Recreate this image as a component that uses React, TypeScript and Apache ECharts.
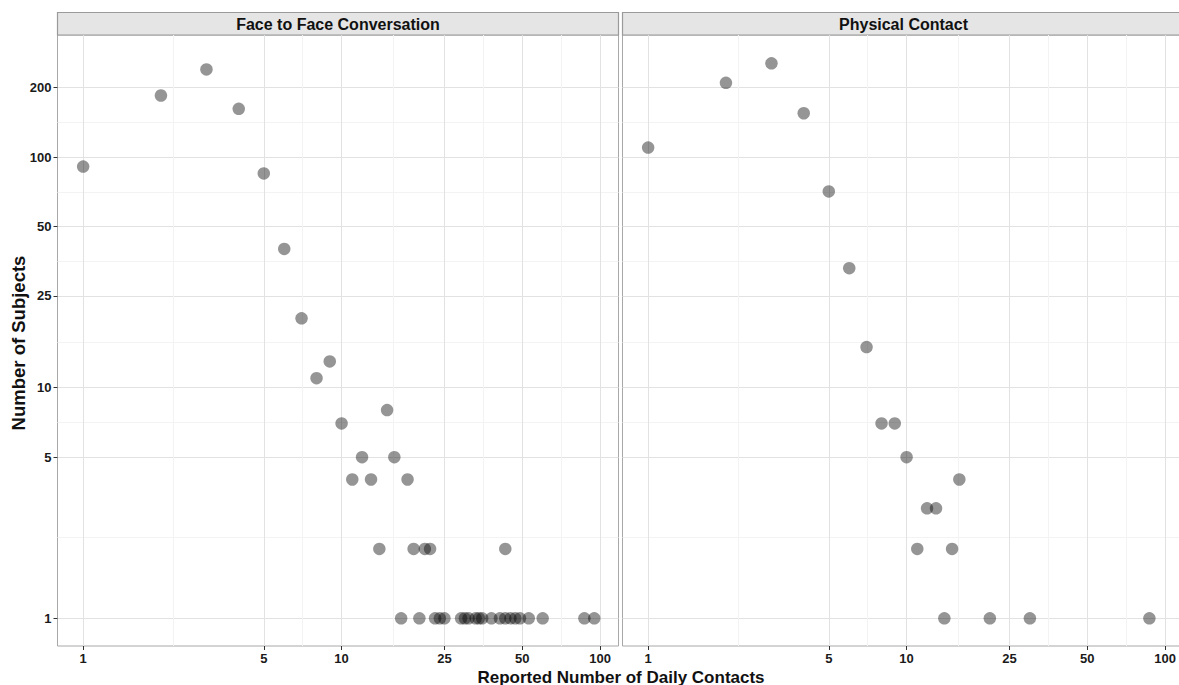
import React, { useEffect, useRef } from "react";
import * as echarts from "echarts";

const panelTitles = ["Face to Face Conversation", "Physical Contact"];
const xTitle = "Reported Number of Daily Contacts";
const yTitle = "Number of Subjects";

const xTicks = [1, 5, 10, 25, 50, 100];
const yTicks = [1, 5, 10, 25, 50, 100, 200];
const xMinorTicks = [2.236, 7.071, 15.81, 35.36, 70.71];
const yMinorTicks = [2.236, 7.071, 15.81, 35.36, 70.71, 141.4];

const faceContacts = [
  1, 2, 3, 4, 5, 6, 7, 8, 9, 10, 11, 12, 13, 14, 15, 16, 18, 19, 21, 22, 43,
  17, 20, 23, 24, 25, 29, 30, 31, 33, 34, 35, 38, 41, 43, 45, 47, 49, 53, 60, 87, 95,
];
const faceSubjects = [
  91, 185, 240, 162, 85, 40, 20, 11, 13, 7, 4, 5, 4, 2, 8, 5, 4, 2, 2, 2, 2,
  1, 1, 1, 1, 1, 1, 1, 1, 1, 1, 1, 1, 1, 1, 1, 1, 1, 1, 1, 1, 1,
];

const physContacts = [1, 2, 3, 4, 5, 6, 7, 8, 9, 10, 11, 12, 13, 15, 16, 14, 21, 30, 87];
const physSubjects = [110, 210, 255, 155, 71, 33, 15, 7, 7, 5, 2, 3, 3, 2, 4, 1, 1, 1, 1];

const X_MIN = 0.7957;
const X_MAX = 117.9;
const Y_MIN = 0.7586;
const Y_MAX = 338.5;

const FONT = "Liberation Sans, Arial, Helvetica, sans-serif";

export default function App() {
  const ref = useRef<HTMLDivElement>(null);

  useEffect(() => {
    document.body.style.margin = "0";
    if (!ref.current) return;
    const chart = echarts.init(ref.current, null, { renderer: "svg" });

    const grids = [
      { left: 57.5, top: 35, width: 561, height: 611 },
      { left: 622.5, top: 35, width: 561, height: 611 },
    ];

    const xAxes: any[] = [];
    const yAxes: any[] = [];
    grids.forEach((_, gi) => {
      xAxes.push({
        type: "log",
        logBase: 10,
        gridIndex: gi,
        position: "bottom",
        min: X_MIN,
        max: X_MAX,
        axisLine: { show: false },
        axisTick: { show: false, customValues: xMinorTicks },
        axisLabel: { show: false, customValues: xMinorTicks },
        splitLine: { show: true, lineStyle: { color: "#f3f3f3", width: 1 } },
      });
      xAxes.push({
        type: "log",
        logBase: 10,
        gridIndex: gi,
        position: "bottom",
        min: X_MIN,
        max: X_MAX,
        axisLine: { show: false },
        axisTick: {
          show: true,
          length: 4,
          customValues: xTicks,
          lineStyle: { color: "#333", width: 1 },
        },
        axisLabel: {
          show: true,
          customValues: xTicks,
          color: "#1a1a1a",
          fontWeight: "bold",
          fontSize: 13,
          fontFamily: FONT,
          margin: 6,
        },
        splitLine: { show: true, lineStyle: { color: "#e2e2e2", width: 1 } },
      });
      yAxes.push({
        type: "log",
        logBase: 10,
        gridIndex: gi,
        position: "left",
        min: Y_MIN,
        max: Y_MAX,
        axisLine: { show: false },
        axisTick: { show: false, customValues: yMinorTicks },
        axisLabel: { show: false, customValues: yMinorTicks },
        splitLine: { show: true, lineStyle: { color: "#f3f3f3", width: 1 } },
      });
      yAxes.push({
        type: "log",
        logBase: 10,
        gridIndex: gi,
        position: "left",
        min: Y_MIN,
        max: Y_MAX,
        axisLine: { show: false },
        axisTick: {
          show: gi === 0,
          length: 4,
          customValues: yTicks,
          lineStyle: { color: "#333", width: 1 },
        },
        axisLabel: {
          show: gi === 0,
          customValues: yTicks,
          color: "#1a1a1a",
          fontWeight: "bold",
          fontSize: 13,
          fontFamily: FONT,
          margin: 6,
        },
        splitLine: { show: true, lineStyle: { color: "#e2e2e2", width: 1 } },
      });
    });

    const pointStyle = { color: "rgba(0,0,0,0.52)" };
    const series = [
      {
        type: "scatter",
        xAxisIndex: 1,
        yAxisIndex: 1,
        symbolSize: 12.5,
        itemStyle: pointStyle,
        data: faceContacts.map((x, i) => [x, faceSubjects[i]]),
      },
      {
        type: "scatter",
        xAxisIndex: 3,
        yAxisIndex: 3,
        symbolSize: 12.5,
        itemStyle: pointStyle,
        data: physContacts.map((x, i) => [x, physSubjects[i]]),
      },
    ];

    const graphic: any[] = [];
    grids.forEach((g, gi) => {
      graphic.push({
        type: "rect",
        shape: { x: g.left, y: 12.5, width: g.width, height: 22.5 },
        style: { fill: "#e5e5e5", stroke: "#9a9a9a", lineWidth: 1.2 },
      });
      graphic.push({
        type: "text",
        x: gi === 1 ? 903.5 : g.left + g.width / 2,
        y: 24,
        style: {
          text: panelTitles[gi],
          fill: "#111",
          font: `bold 16px ${FONT}`,
          textAlign: "center",
          textVerticalAlign: "middle",
        },
      });
    });
    graphic.push({
      type: "text",
      x: 621,
      y: 677,
      style: {
        text: xTitle,
        fill: "#111",
        font: `bold 17px ${FONT}`,
        textAlign: "center",
        textVerticalAlign: "middle",
      },
    });
    graphic.push({
      type: "text",
      x: 18,
      y: 343,
      rotation: Math.PI / 2,
      style: {
        text: yTitle,
        fill: "#111",
        font: `bold 18.5px ${FONT}`,
        textAlign: "center",
        textVerticalAlign: "middle",
      },
    });

    chart.setOption({
      animation: false,
      backgroundColor: "#ffffff",
      grid: grids.map((g) => ({
        ...g,
        show: true,
        borderColor: "#a8a8a8",
        borderWidth: 1,
        backgroundColor: "#ffffff",
        containLabel: false,
      })),
      xAxis: xAxes,
      yAxis: yAxes,
      series,
      graphic,
    });

    return () => chart.dispose();
  }, []);

  return (
    <div
      style={{
        position: "absolute",
        left: 0,
        top: 0,
        width: 1179,
        height: 685,
        overflow: "hidden",
      }}
    >
      <div ref={ref} style={{ width: 1200, height: 685 }} />
    </div>
  );
}
